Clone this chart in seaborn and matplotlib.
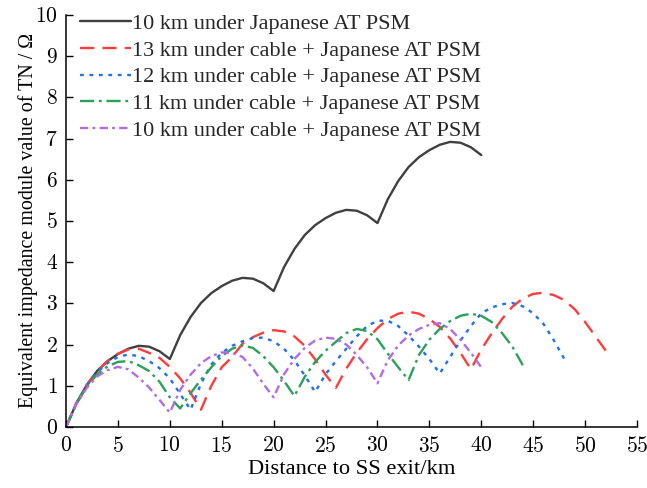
import numpy as np
import pandas as pd
import matplotlib
matplotlib.use("Agg")
import matplotlib.pyplot as plt
from matplotlib.ticker import FuncFormatter
import seaborn as sns

# -- Data (1 km grid) ----------------------------------------------------------
labels = ["10 km under Japanese AT PSM",
          "13 km under cable + Japanese AT PSM",
          "12 km under cable + Japanese AT PSM",
          "11 km under cable + Japanese AT PSM",
          "10 km under cable + Japanese AT PSM"]

at_10km = [0, 0.58, 1.02, 1.36, 1.60, 1.77, 1.90, 1.97, 1.95, 1.84, 1.65,
           2.23, 2.67, 3.01, 3.25, 3.42, 3.55, 3.62, 3.60, 3.49, 3.30,
           3.88, 4.32, 4.66, 4.90, 5.07, 5.20, 5.27, 5.25, 5.14, 4.95,
           5.53, 5.97, 6.31, 6.55, 6.72, 6.85, 6.92, 6.90, 6.79, 6.60]

cable_13km = [0, 0.58, 1.02, 1.36, 1.60, 1.78, 1.88, 1.90, 1.80, 1.68, 1.46, 1.18, 0.83, 0.42,
              1.00, 1.45, 1.70, 2.02, 2.18, 2.29, 2.35, 2.32, 2.20, 1.97, 1.64, 1.27, 0.95,
              1.42, 1.80, 2.13, 2.40, 2.62, 2.75, 2.80, 2.75, 2.62, 2.43, 2.15, 1.80, 1.40,
              1.88, 2.27, 2.62, 2.92, 3.12, 3.23, 3.26, 3.20, 3.08, 2.86, 2.55, 2.20, 1.85]

cable_12km = [0, 0.57, 1.00, 1.33, 1.55, 1.70, 1.76, 1.72, 1.60, 1.43, 1.18, 0.80, 0.42,
              1.05, 1.52, 1.80, 1.97, 2.08, 2.16, 2.17, 2.08, 1.90, 1.62, 1.25, 0.85,
              1.28, 1.60, 1.90, 2.20, 2.45, 2.58, 2.58, 2.45, 2.22, 1.95, 1.65, 1.30,
              1.70, 2.10, 2.45, 2.76, 2.90, 2.98, 3.01, 2.93, 2.76, 2.50, 2.10, 1.65]

cable_11km = [0, 0.56, 0.98, 1.28, 1.47, 1.58, 1.60, 1.50, 1.36, 1.10, 0.72, 0.45,
              0.82, 1.15, 1.45, 1.72, 1.90, 1.98, 1.92, 1.72, 1.45, 1.12, 0.75,
              1.22, 1.58, 1.85, 2.07, 2.28, 2.38, 2.33, 2.13, 1.78, 1.45, 1.14,
              1.75, 2.12, 2.38, 2.57, 2.70, 2.75, 2.70, 2.55, 2.28, 1.95, 1.50]

cable_10km = [0, 0.55, 0.95, 1.23, 1.38, 1.46, 1.40, 1.20, 0.96, 0.66, 0.35,
              0.90, 1.27, 1.55, 1.72, 1.81, 1.80, 1.70, 1.42, 1.05, 0.72,
              1.28, 1.65, 1.92, 2.10, 2.17, 2.14, 2.00, 1.75, 1.45, 1.06,
              1.62, 1.98, 2.22, 2.38, 2.48, 2.52, 2.38, 2.12, 1.80, 1.45]

series = [at_10km, cable_13km, cable_12km, cable_11km, cable_10km]

# -- Styles --------------------------------------------------------------------
colors = ["#404040", "#ff3b3b", "#1f6fef", "#2aa05a", "#b36be3"]
dash_styles = ["-", (0, (6, 3.5)), (0, (1.6, 2.4)), (0, (6, 2, 1.2, 2)), (0, (3.5, 1.8, 1.2, 1.8))]

sns.set_theme(style="ticks")
plt.rcParams["font.family"] = ["Liberation Serif", "DejaVu Serif"]
plt.rcParams["mathtext.fontset"] = "cm"

fig = plt.figure(figsize=(6.47, 4.88), dpi=100)
ax = fig.add_axes([66 / 647, 1 - 427 / 488, (637 - 66) / 647, (427 - 15) / 488])

for vals, lab, col, ls in zip(series, labels, colors, dash_styles):
    df = pd.DataFrame({"dist": np.arange(len(vals)), "z": vals})
    sns.lineplot(data=df, x="dist", y="z", ax=ax, color=col, linestyle=ls,
                 linewidth=1.7, label=lab)

ax.set_xlim(0, 55)
ax.set_ylim(0, 10)
ax.set_xticks(range(0, 56, 5))
ax.set_yticks(range(0, 11))
cm_fmt = FuncFormatter(lambda v, p: f"${int(v)}$")
ax.xaxis.set_major_formatter(cm_fmt)
ax.yaxis.set_major_formatter(cm_fmt)
ax.tick_params(direction="in", length=5, width=1, labelsize=15.5, colors="black")
ax.tick_params(axis="x", pad=7)
ax.tick_params(axis="y", pad=6)
for side in ["top", "right"]:
    ax.spines[side].set_visible(False)
for side in ["left", "bottom"]:
    ax.spines[side].set_color("black")
    ax.spines[side].set_linewidth(1.1)

ax.set_xlabel("Distance to SS exit/km", fontsize=16.2, color="black", labelpad=2)
ax.set_ylabel("Equivalent impedance module value of TN / Ω", fontsize=14.4, color="black", labelpad=-2)

ax.legend(loc="upper left", bbox_to_anchor=(0.024, 1.004), frameon=False,
          fontsize=16, handlelength=2.3, handletextpad=0.05,
          labelspacing=0.28, borderaxespad=0, borderpad=0)

fig.savefig("out.png", dpi=100)
